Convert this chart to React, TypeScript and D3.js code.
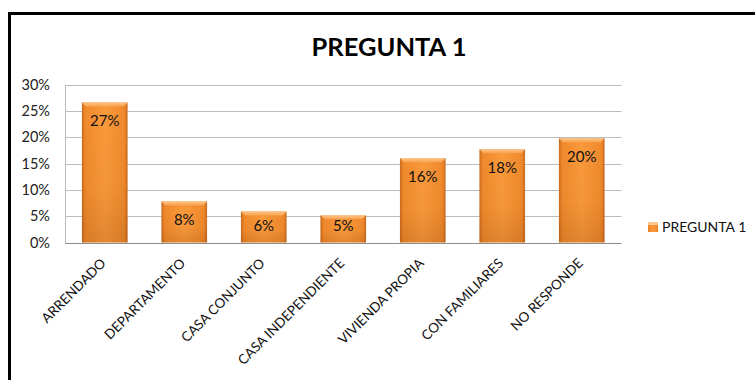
import React from "react";
import * as d3 from "d3";

const categories = [
  "ARRENDADO",
  "DEPARTAMENTO",
  "CASA CONJUNTO",
  "CASA INDEPENDIENTE",
  "VIVIENDA PROPIA",
  "CON FAMILIARES",
  "NO RESPONDE",
];
const values = [0.266, 0.078, 0.059, 0.052, 0.16, 0.177, 0.198];
const yTicks = [0, 0.05, 0.1, 0.15, 0.2, 0.25, 0.3];
const seriesName = "PREGUNTA 1";
const title = "PREGUNTA 1";

const W = 755;
const H = 380;
const FONT = "Lato, 'Open Sans', sans-serif";

export default function App() {
  const x = d3
    .scaleBand<string>()
    .domain(categories)
    .range([65, 621.5])
    .paddingInner(0.426)
    .paddingOuter(0.213);
  const y = d3.scaleLinear().domain([0, 0.3]).range([242.5, 84.5]);
  const pct = d3.format(".0%");
  const bw = x.bandwidth();
  const base = y(0);

  return (
    <svg
      width={W}
      height={H}
      style={{ position: "absolute", left: 0, top: 0, background: "#fff" }}
      fontFamily={FONT}
    >
      <defs>
        <linearGradient id="barH" x1="0" x2="1" y1="0" y2="0">
          <stop offset="0%" stopColor="#C9691C" />
          <stop offset="7%" stopColor="#F08A2C" />
          <stop offset="50%" stopColor="#FA9A3C" />
          <stop offset="93%" stopColor="#F08A2C" />
          <stop offset="100%" stopColor="#C9691C" />
        </linearGradient>
        <linearGradient id="barV" x1="0" x2="0" y1="0" y2="1">
          <stop offset="0%" stopColor="#000" stopOpacity="0" />
          <stop offset="60%" stopColor="#5a2500" stopOpacity="0.03" />
          <stop offset="100%" stopColor="#5a2500" stopOpacity="0.16" />
        </linearGradient>
        <linearGradient id="bevel" x1="0" x2="0" y1="0" y2="1">
          <stop offset="0%" stopColor="#FCC88E" />
          <stop offset="100%" stopColor="#F9A04A" />
        </linearGradient>
      </defs>

      {/* outer frame */}
      <rect x={0} y={0} width={W} height={H} fill="#fff" />
      <line x1={9.5} x2={W} y1={13.5} y2={13.5} stroke="#000" strokeWidth={3} />
      <line x1={9.5} x2={9.5} y1={12} y2={H} stroke="#000" strokeWidth={3} />

      {/* title */}
      <text
        x={389}
        y={56}
        textAnchor="middle"
        fontSize={25.5}
        fontWeight="bold"
        fill="#000"
      >
        {title}
      </text>

      {/* gridlines */}
      {yTicks.map((t) => {
        const yy = Math.round(y(t)) + 0.5;
        return (
          <line
            key={"g" + t}
            x1={65}
            x2={621.5}
            y1={yy}
            y2={yy}
            stroke={t === 0 ? "#8C8C8C" : "#BDBDBD"}
            strokeWidth={1}
          />
        );
      })}
      <line
        x1={65.5}
        x2={65.5}
        y1={Math.round(y(0.3)) + 0.5}
        y2={Math.round(y(0)) + 0.5}
        stroke="#BDBDBD"
      />

      {/* y tick labels */}
      {yTicks.map((t) => (
        <text
          key={"t" + t}
          x={50}
          y={y(t) + 5}
          textAnchor="end"
          fontSize={14.5}
          fill="#222"
        >
          {pct(t)}
        </text>
      ))}

      {/* bars */}
      {categories.map((c, i) => {
        const x0 = x(c)!;
        const top = y(values[i]);
        const h = base - top;
        const bev = 4;
        const ly = Math.min(top + 24, base - 11.5);
        return (
          <g key={c}>
            <rect x={x0} y={top} width={bw} height={h} fill="url(#barH)" />
            <rect x={x0} y={top} width={bw} height={h} fill="url(#barV)" />
            <polygon
              points={`${x0},${top} ${x0 + bw},${top} ${x0 + bw - bev},${top + bev} ${x0 + bev},${top + bev}`}
              fill="url(#bevel)"
            />
            <text
              x={x0 + bw / 2}
              y={ly}
              textAnchor="middle"
              fontSize={15}
              fill="#111"
            >
              {pct(values[i])}
            </text>
          </g>
        );
      })}

      {/* x labels */}
      {categories.map((c) => {
        const cx = x(c)! + bw / 2;
        return (
          <text
            key={"x" + c}
            transform={`translate(${cx + 2},${264}) rotate(-45)`}
            textAnchor="end"
            fontSize={13.5}
            fill="#111"
          >
            {c}
          </text>
        );
      })}

      {/* legend */}
      <rect x={648} y={222} width={10} height={10} fill="url(#barH)" />
      <rect x={648} y={222} width={10} height={3} fill="#FCC88E" />
      <text x={662} y={232} fontSize={14} fill="#111">
        {seriesName}
      </text>
    </svg>
  );
}
